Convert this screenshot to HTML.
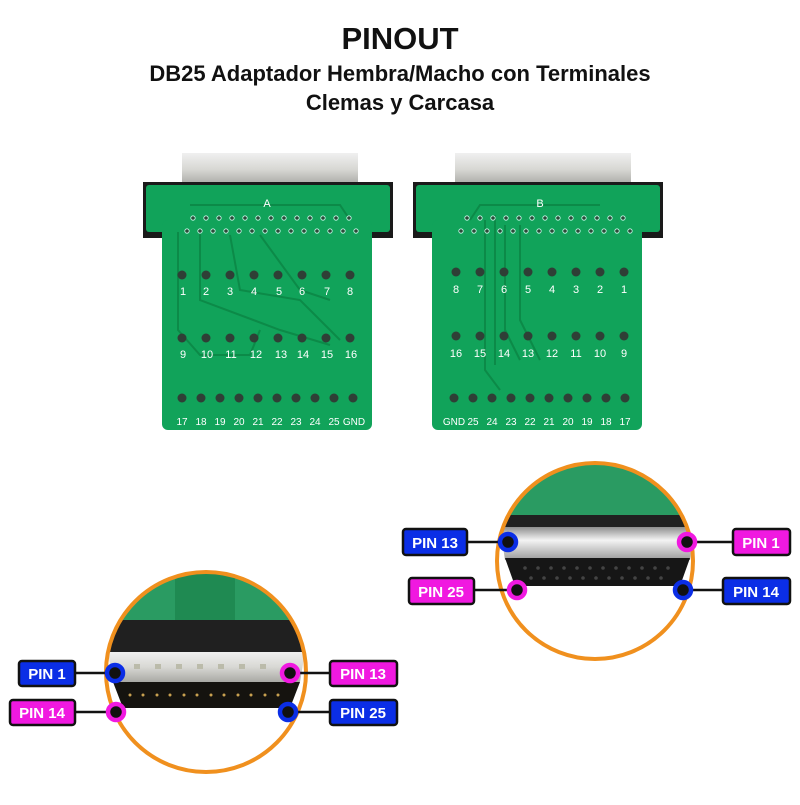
<!DOCTYPE html>
<html><head><meta charset="utf-8"><style>
body{margin:0;background:#fff;width:800px;height:800px;overflow:hidden;font-family:"Liberation Sans",sans-serif}
</style></head><body>
<svg width="800" height="800" viewBox="0 0 800 800" xmlns="http://www.w3.org/2000/svg" font-family="Liberation Sans, sans-serif">
<defs>
<linearGradient id="met" x1="0" y1="0" x2="0" y2="1"><stop offset="0" stop-color="#f0f0f0"/><stop offset="0.5" stop-color="#d8d8d4"/><stop offset="1" stop-color="#a9a9a4"/></linearGradient>
<linearGradient id="met2" x1="0" y1="0" x2="0" y2="1"><stop offset="0" stop-color="#8e8e8e"/><stop offset="0.4" stop-color="#f4f4f4"/><stop offset="1" stop-color="#9a9a9a"/></linearGradient>
<clipPath id="c1"><circle cx="206" cy="672" r="100"/></clipPath>
<clipPath id="c2"><circle cx="595" cy="561" r="98"/></clipPath>
</defs>
<text x="400" y="49" text-anchor="middle" font-size="31" font-weight="bold" fill="#111">PINOUT</text>
<text x="400" y="81" text-anchor="middle" font-size="22" font-weight="bold" fill="#111">DB25 Adaptador Hembra/Macho con Terminales</text>
<text x="400" y="110" text-anchor="middle" font-size="22" font-weight="bold" fill="#111">Clemas y Carcasa</text>

<!-- Board A -->
<g>
<rect x="182" y="153" width="176" height="32" fill="url(#met)"/>
<rect x="143" y="182" width="250" height="56" fill="#1a1a1a"/>
<rect x="146" y="185" width="244" height="47" rx="3" fill="#11a35a"/>
<rect x="162" y="220" width="210" height="210" rx="6" fill="#11a35a"/>
<g fill="none" stroke="#0c8a48" stroke-width="2">
<path d="M178 232 L178 330 L200 355 L250 355 L260 330"/>
<path d="M190 205 L340 205 L350 220"/>
<path d="M200 232 L200 300 L280 330 L330 345"/>
<path d="M230 235 L240 290 L300 300 L340 340"/>
<path d="M260 235 L300 290 L330 300"/>
</g>
<text x="267" y="207" font-size="11" fill="#fff" text-anchor="middle">A</text>
<g fill="#2b4a38" stroke="#cfe" stroke-width="0.8">
<circle cx="193" cy="218" r="2.2"/><circle cx="206" cy="218" r="2.2"/><circle cx="219" cy="218" r="2.2"/><circle cx="232" cy="218" r="2.2"/><circle cx="245" cy="218" r="2.2"/><circle cx="258" cy="218" r="2.2"/><circle cx="271" cy="218" r="2.2"/><circle cx="284" cy="218" r="2.2"/><circle cx="297" cy="218" r="2.2"/><circle cx="310" cy="218" r="2.2"/><circle cx="323" cy="218" r="2.2"/><circle cx="336" cy="218" r="2.2"/><circle cx="349" cy="218" r="2.2"/>
<circle cx="187" cy="231" r="2.2"/><circle cx="200" cy="231" r="2.2"/><circle cx="213" cy="231" r="2.2"/><circle cx="226" cy="231" r="2.2"/><circle cx="239" cy="231" r="2.2"/><circle cx="252" cy="231" r="2.2"/><circle cx="265" cy="231" r="2.2"/><circle cx="278" cy="231" r="2.2"/><circle cx="291" cy="231" r="2.2"/><circle cx="304" cy="231" r="2.2"/><circle cx="317" cy="231" r="2.2"/><circle cx="330" cy="231" r="2.2"/><circle cx="343" cy="231" r="2.2"/><circle cx="356" cy="231" r="2.2"/>
</g>
<g fill="#2f3f36">
<circle cx="182" cy="275" r="4.5"/><circle cx="206" cy="275" r="4.5"/><circle cx="230" cy="275" r="4.5"/><circle cx="254" cy="275" r="4.5"/><circle cx="278" cy="275" r="4.5"/><circle cx="302" cy="275" r="4.5"/><circle cx="326" cy="275" r="4.5"/><circle cx="350" cy="275" r="4.5"/>
<circle cx="182" cy="338" r="4.5"/><circle cx="206" cy="338" r="4.5"/><circle cx="230" cy="338" r="4.5"/><circle cx="254" cy="338" r="4.5"/><circle cx="278" cy="338" r="4.5"/><circle cx="302" cy="338" r="4.5"/><circle cx="326" cy="338" r="4.5"/><circle cx="350" cy="338" r="4.5"/>
<circle cx="182" cy="398" r="4.5"/><circle cx="201" cy="398" r="4.5"/><circle cx="220" cy="398" r="4.5"/><circle cx="239" cy="398" r="4.5"/><circle cx="258" cy="398" r="4.5"/><circle cx="277" cy="398" r="4.5"/><circle cx="296" cy="398" r="4.5"/><circle cx="315" cy="398" r="4.5"/><circle cx="334" cy="398" r="4.5"/><circle cx="353" cy="398" r="4.5"/>
</g>
<g fill="#fff" font-size="11" text-anchor="middle">
<text x="183" y="295">1</text><text x="206" y="295">2</text><text x="230" y="295">3</text><text x="254" y="295">4</text><text x="279" y="295">5</text><text x="302" y="295">6</text><text x="327" y="295">7</text><text x="350" y="295">8</text>
<text x="183" y="358">9</text><text x="207" y="358">10</text><text x="231" y="358">11</text><text x="256" y="358">12</text><text x="281" y="358">13</text><text x="303" y="358">14</text><text x="327" y="358">15</text><text x="351" y="358">16</text>
</g>
<g fill="#fff" font-size="10" text-anchor="middle">
<text x="182" y="425">17</text><text x="201" y="425">18</text><text x="220" y="425">19</text><text x="239" y="425">20</text><text x="258" y="425">21</text><text x="277" y="425">22</text><text x="296" y="425">23</text><text x="315" y="425">24</text><text x="334" y="425">25</text><text x="354" y="425">GND</text>
</g>
</g>

<!-- Board B -->
<g>
<rect x="455" y="153" width="176" height="32" fill="url(#met)"/>
<rect x="413" y="182" width="250" height="56" fill="#1a1a1a"/>
<rect x="416" y="185" width="244" height="47" rx="3" fill="#11a35a"/>
<rect x="432" y="220" width="210" height="210" rx="6" fill="#11a35a"/>
<g fill="none" stroke="#0c8a48" stroke-width="2">
<path d="M485 220 L485 370 L500 390"/><path d="M495 215 L495 365"/><path d="M505 225 L505 330 L520 360"/>
<path d="M600 205 L480 205 L470 220"/><path d="M520 225 L520 320 L540 360"/>
</g>
<text x="540" y="207" font-size="11" fill="#fff" text-anchor="middle">B</text>
<g fill="#2b4a38" stroke="#cfe" stroke-width="0.8">
<circle cx="467" cy="218" r="2.2"/><circle cx="480" cy="218" r="2.2"/><circle cx="493" cy="218" r="2.2"/><circle cx="506" cy="218" r="2.2"/><circle cx="519" cy="218" r="2.2"/><circle cx="532" cy="218" r="2.2"/><circle cx="545" cy="218" r="2.2"/><circle cx="558" cy="218" r="2.2"/><circle cx="571" cy="218" r="2.2"/><circle cx="584" cy="218" r="2.2"/><circle cx="597" cy="218" r="2.2"/><circle cx="610" cy="218" r="2.2"/><circle cx="623" cy="218" r="2.2"/>
<circle cx="461" cy="231" r="2.2"/><circle cx="474" cy="231" r="2.2"/><circle cx="487" cy="231" r="2.2"/><circle cx="500" cy="231" r="2.2"/><circle cx="513" cy="231" r="2.2"/><circle cx="526" cy="231" r="2.2"/><circle cx="539" cy="231" r="2.2"/><circle cx="552" cy="231" r="2.2"/><circle cx="565" cy="231" r="2.2"/><circle cx="578" cy="231" r="2.2"/><circle cx="591" cy="231" r="2.2"/><circle cx="604" cy="231" r="2.2"/><circle cx="617" cy="231" r="2.2"/><circle cx="630" cy="231" r="2.2"/>
</g>
<g fill="#2f3f36">
<circle cx="456" cy="272" r="4.5"/><circle cx="480" cy="272" r="4.5"/><circle cx="504" cy="272" r="4.5"/><circle cx="528" cy="272" r="4.5"/><circle cx="552" cy="272" r="4.5"/><circle cx="576" cy="272" r="4.5"/><circle cx="600" cy="272" r="4.5"/><circle cx="624" cy="272" r="4.5"/>
<circle cx="456" cy="336" r="4.5"/><circle cx="480" cy="336" r="4.5"/><circle cx="504" cy="336" r="4.5"/><circle cx="528" cy="336" r="4.5"/><circle cx="552" cy="336" r="4.5"/><circle cx="576" cy="336" r="4.5"/><circle cx="600" cy="336" r="4.5"/><circle cx="624" cy="336" r="4.5"/>
<circle cx="454" cy="398" r="4.5"/><circle cx="473" cy="398" r="4.5"/><circle cx="492" cy="398" r="4.5"/><circle cx="511" cy="398" r="4.5"/><circle cx="530" cy="398" r="4.5"/><circle cx="549" cy="398" r="4.5"/><circle cx="568" cy="398" r="4.5"/><circle cx="587" cy="398" r="4.5"/><circle cx="606" cy="398" r="4.5"/><circle cx="625" cy="398" r="4.5"/>
</g>
<g fill="#fff" font-size="11" text-anchor="middle">
<text x="456" y="293">8</text><text x="480" y="293">7</text><text x="504" y="293">6</text><text x="528" y="293">5</text><text x="552" y="293">4</text><text x="576" y="293">3</text><text x="600" y="293">2</text><text x="624" y="293">1</text>
<text x="456" y="357">16</text><text x="480" y="357">15</text><text x="504" y="357">14</text><text x="528" y="357">13</text><text x="552" y="357">12</text><text x="576" y="357">11</text><text x="600" y="357">10</text><text x="624" y="357">9</text>
</g>
<g fill="#fff" font-size="10" text-anchor="middle">
<text x="454" y="425">GND</text><text x="473" y="425">25</text><text x="492" y="425">24</text><text x="511" y="425">23</text><text x="530" y="425">22</text><text x="549" y="425">21</text><text x="568" y="425">20</text><text x="587" y="425">19</text><text x="606" y="425">18</text><text x="625" y="425">17</text>
</g>
</g>

<!-- Circle 1 (male) -->
<g clip-path="url(#c1)">
<rect x="100" y="570" width="215" height="52" fill="#2a9b62"/>
<rect x="175" y="570" width="60" height="52" fill="#1f8a52"/>
<rect x="100" y="620" width="215" height="32" fill="#202020"/>
<path d="M108 652 L305 652 L300 682 L113 682 Z" fill="url(#met)"/>
<path d="M113 682 L300 682 L290 708 L123 708 Z" fill="#15130f"/>
<g fill="#bba">
<rect x="134" y="664" width="6" height="5"/><rect x="155" y="664" width="6" height="5"/><rect x="176" y="664" width="6" height="5"/><rect x="197" y="664" width="6" height="5"/><rect x="218" y="664" width="6" height="5"/><rect x="239" y="664" width="6" height="5"/><rect x="260" y="664" width="6" height="5"/>
</g>
<g fill="#c8a050">
<circle cx="130" cy="695" r="1.5"/><circle cx="143" cy="695" r="1.5"/><circle cx="157" cy="695" r="1.5"/><circle cx="170" cy="695" r="1.5"/><circle cx="184" cy="695" r="1.5"/><circle cx="197" cy="695" r="1.5"/><circle cx="211" cy="695" r="1.5"/><circle cx="224" cy="695" r="1.5"/><circle cx="238" cy="695" r="1.5"/><circle cx="251" cy="695" r="1.5"/><circle cx="265" cy="695" r="1.5"/><circle cx="278" cy="695" r="1.5"/>
</g>
</g>
<circle cx="206" cy="672" r="100" fill="none" stroke="#f0901e" stroke-width="4"/>

<!-- Circle 2 (female) -->
<g clip-path="url(#c2)">
<rect x="495" y="460" width="205" height="70" fill="#2a9b62"/>
<rect x="495" y="515" width="205" height="12" fill="#202020"/>
<path d="M500 527 L695 527 L690 560 L505 560 Z" fill="url(#met2)"/>
<path d="M505 558 L690 558 L680 586 L515 586 Z" fill="#161616"/>
<g fill="#444">
<circle cx="525" cy="568" r="1.8"/><circle cx="538" cy="568" r="1.8"/><circle cx="551" cy="568" r="1.8"/><circle cx="564" cy="568" r="1.8"/><circle cx="577" cy="568" r="1.8"/><circle cx="590" cy="568" r="1.8"/><circle cx="603" cy="568" r="1.8"/><circle cx="616" cy="568" r="1.8"/><circle cx="629" cy="568" r="1.8"/><circle cx="642" cy="568" r="1.8"/><circle cx="655" cy="568" r="1.8"/><circle cx="668" cy="568" r="1.8"/>
<circle cx="531" cy="578" r="1.8"/><circle cx="544" cy="578" r="1.8"/><circle cx="557" cy="578" r="1.8"/><circle cx="570" cy="578" r="1.8"/><circle cx="583" cy="578" r="1.8"/><circle cx="596" cy="578" r="1.8"/><circle cx="609" cy="578" r="1.8"/><circle cx="622" cy="578" r="1.8"/><circle cx="635" cy="578" r="1.8"/><circle cx="648" cy="578" r="1.8"/><circle cx="661" cy="578" r="1.8"/>
</g>
</g>
<circle cx="595" cy="561" r="98" fill="none" stroke="#f0901e" stroke-width="4"/>

<!-- Labels -->
<g stroke="#111" stroke-width="2.5">
<line x1="75" y1="673" x2="115" y2="673"/><line x1="75" y1="712" x2="116" y2="712"/>
<line x1="290" y1="673" x2="330" y2="673"/><line x1="288" y1="712" x2="330" y2="712"/>
<line x1="467" y1="542" x2="508" y2="542"/><line x1="474" y1="590" x2="517" y2="590"/>
<line x1="687" y1="542" x2="733" y2="542"/><line x1="683" y1="590" x2="723" y2="590"/>
</g>
<g stroke="#111" stroke-width="2.5">
<rect x="19" y="661" width="56" height="25" rx="3" fill="#0b2ee6"/>
<rect x="10" y="700" width="65" height="25" rx="3" fill="#f019e0"/>
<rect x="330" y="661" width="67" height="25" rx="3" fill="#f019e0"/>
<rect x="330" y="700" width="67" height="25" rx="3" fill="#0b2ee6"/>
<rect x="403" y="529" width="64" height="26" rx="3" fill="#0b2ee6"/>
<rect x="409" y="578" width="65" height="26" rx="3" fill="#f019e0"/>
<rect x="733" y="529" width="57" height="26" rx="3" fill="#f019e0"/>
<rect x="723" y="578" width="67" height="26" rx="3" fill="#0b2ee6"/>
</g>
<g fill="#fff" font-weight="bold" font-size="15" text-anchor="middle">
<text x="47" y="679">PIN 1</text><text x="42" y="718">PIN 14</text>
<text x="363" y="679">PIN 13</text><text x="363" y="718">PIN 25</text>
<text x="435" y="548">PIN 13</text><text x="441" y="597">PIN 25</text>
<text x="761" y="548">PIN 1</text><text x="756" y="597">PIN 14</text>
</g>
<g stroke-width="4.5" fill="#111">
<circle cx="115" cy="673" r="8" stroke="#0b2ee6"/><circle cx="116" cy="712" r="8" stroke="#f019e0"/>
<circle cx="290" cy="673" r="8" stroke="#f019e0"/><circle cx="288" cy="712" r="8" stroke="#0b2ee6"/>
<circle cx="508" cy="542" r="8" stroke="#0b2ee6"/><circle cx="517" cy="590" r="8" stroke="#f019e0"/>
<circle cx="687" cy="542" r="8" stroke="#f019e0"/><circle cx="683" cy="590" r="8" stroke="#0b2ee6"/>
</g>
</svg>
</body></html>
